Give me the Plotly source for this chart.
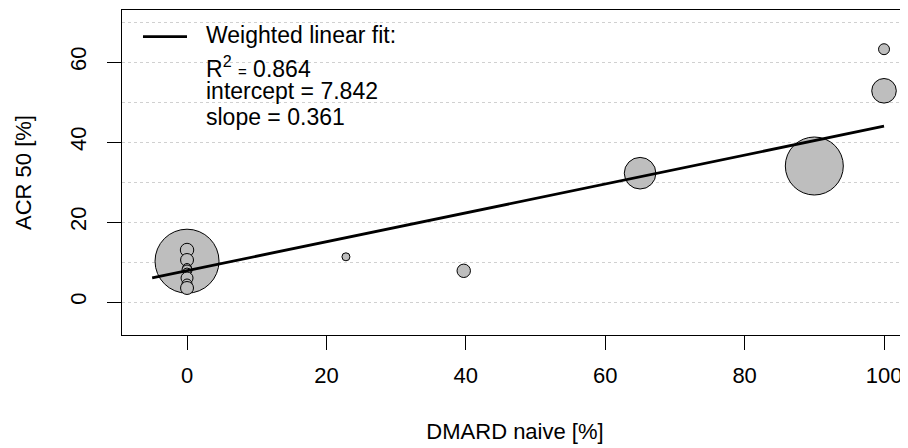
import numpy as np
import plotly.graph_objects as go

# ---- data ----
dmard_naive = [0, 0, 0, 0, 0, 0, 0, 0, 0, 22.8, 39.7, 65.0, 90.0, 100, 100]
acr50 = [10.2, 13.0, 10.5, 8.5, 8.0, 7.5, 6.0, 4.5, 3.5, 11.3, 7.8, 32.2, 34.0, 63.2, 52.8]
weights = [1024, 45, 42, 20, 25, 16, 36, 25, 42, 16, 45, 250, 841, 30, 151]

fit_intercept = 7.842
fit_slope = 0.361
fit_r2 = 0.864
fit_x = [-5, 100]

x_ticks = [0, 20, 40, 60, 80, 100]
y_ticks = [0, 20, 40, 60]

FONT = "Liberation Sans, Arial, sans-serif"

sizes = [2 * np.sqrt(w) for w in weights]
fit_y = [fit_intercept + fit_slope * x for x in fit_x]

fig = go.Figure()
fig.add_trace(go.Scatter(
    x=dmard_naive, y=acr50, mode="markers",
    marker=dict(size=sizes, sizemode="diameter", color="#BEBEBE",
                line=dict(color="black", width=1), opacity=1),
    showlegend=False, hoverinfo="x+y"))
fig.add_trace(go.Scatter(
    x=fit_x, y=fit_y, mode="lines",
    line=dict(color="black", width=2.8),
    showlegend=False, name="Weighted linear fit"))

# legend box contents
fig.add_shape(type="line", xref="paper", yref="paper",
              x0=0.0267, x1=0.0827, y0=0.918, y1=0.918,
              line=dict(color="black", width=2.8))
leg_lines = [
    ("Weighted linear fit:", 0.924),
    ("R<sup>2</sup> <span style='font-size:15px'>=</span> %.3f" % fit_r2, 0.826),
    ("intercept = %.3f" % fit_intercept, 0.752),
    ("slope = %.3f" % fit_slope, 0.671),
]
for txt, yy in leg_lines:
    fig.add_annotation(text=txt, xref="paper", yref="paper", x=0.104, y=yy,
                       xanchor="left", yanchor="middle", showarrow=False,
                       font=dict(family=FONT, size=23, color="black"))

axis_common = dict(
    showline=True, linecolor="black", linewidth=1, mirror=True,
    ticks="outside", ticklen=14, tickcolor="black", tickwidth=1,
    zeroline=False, automargin=False,
    tickfont=dict(family=FONT, size=22, color="black"),
)

fig.update_xaxes(
    range=[-9.33, 103.44], tickvals=x_ticks, showgrid=False, ticklabelstandoff=7,
    title=dict(text="DMARD naive [%]", font=dict(family=FONT, size=22, color="black"),
               standoff=36),
    **axis_common)
fig.update_yaxes(
    range=[-8.25, 73], tickvals=y_ticks, tickangle=-90, ticklabelstandoff=12,
    showgrid=True, gridcolor="#D0D0D0", gridwidth=1, griddash="dot",
    minor=dict(dtick=10, tick0=0, showgrid=True, gridcolor="#D0D0D0",
               griddash="dot", gridwidth=1, ticks=""),
    title=dict(text="ACR 50 [%]", font=dict(family=FONT, size=22, color="black"),
               standoff=28),
    **axis_common)

# page body has an 8px default margin: size the figure so the plot area
# lands at the same window pixels as the reference
fig.update_layout(
    width=900, height=440,
    margin=dict(l=114, r=0, t=2, b=113),
    plot_bgcolor="white", paper_bgcolor="white",
    font=dict(family=FONT, size=22, color="black"),
)

fig.write_html("out.html")
